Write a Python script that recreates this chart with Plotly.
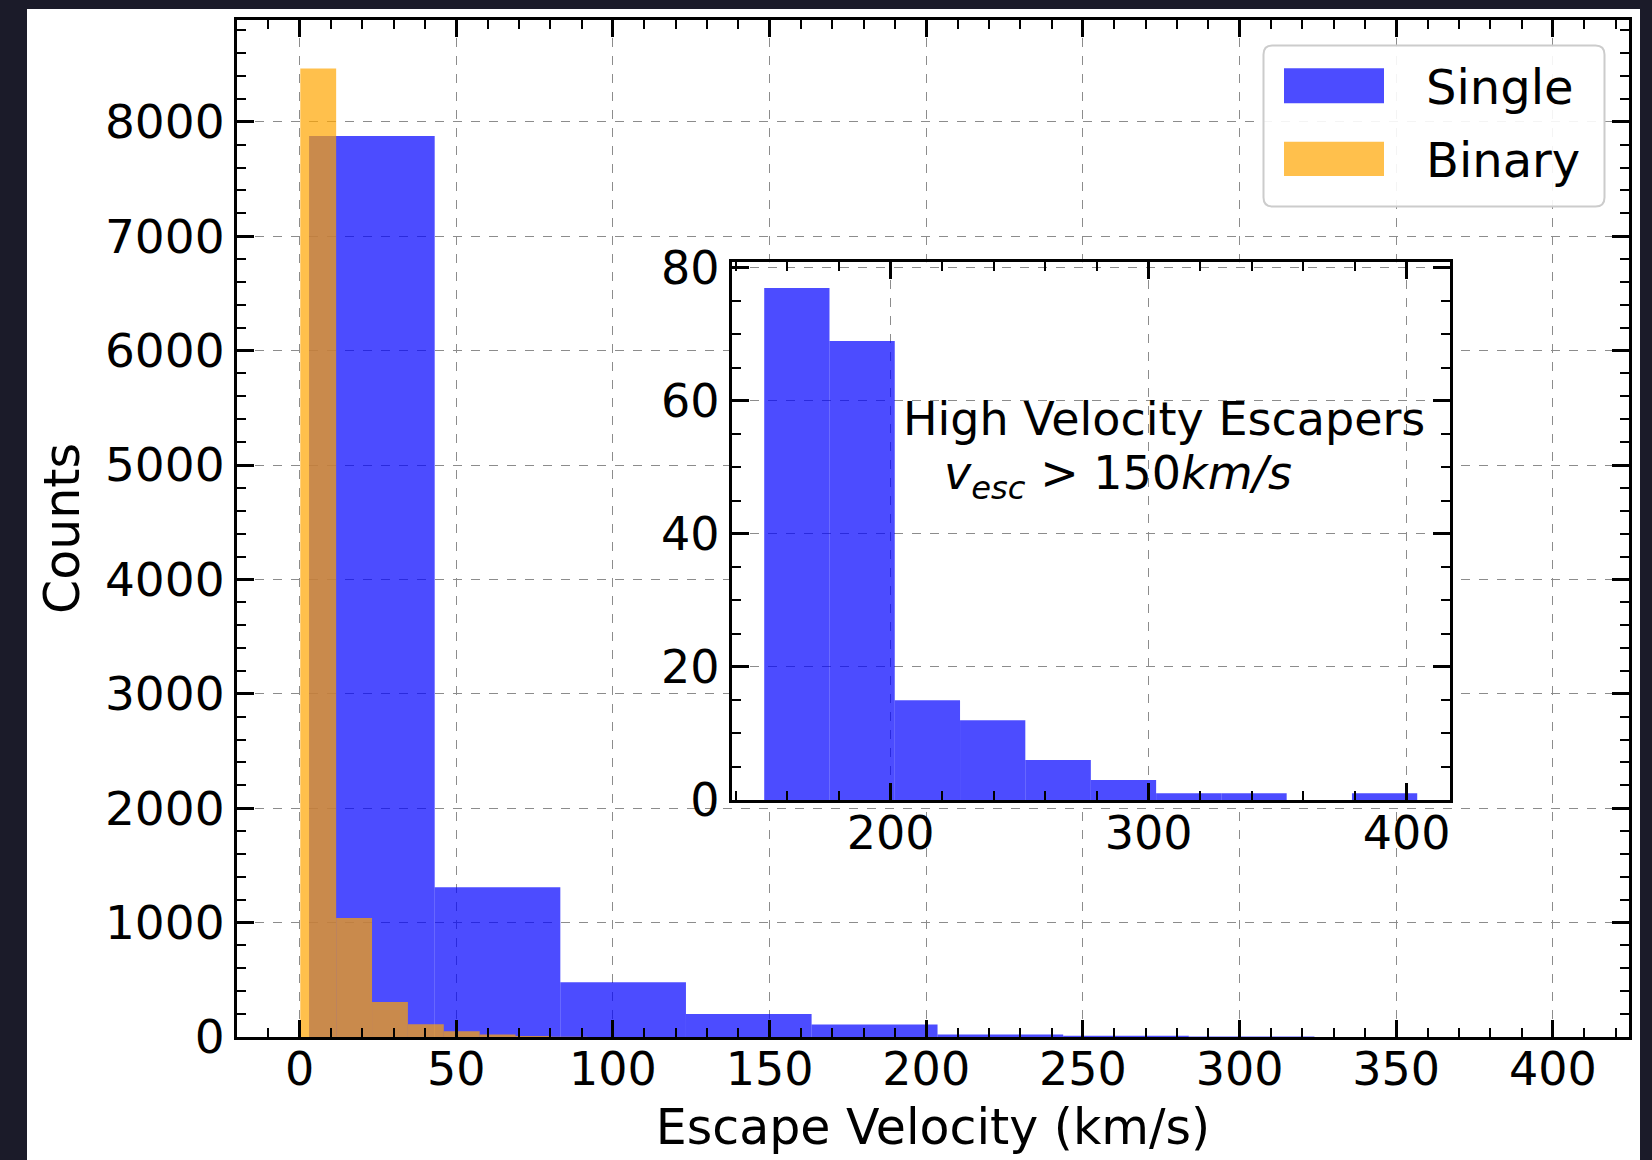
import numpy as np
import plotly.graph_objects as go

# ---------------- data ----------------
single_edges = [3.0, 43.1, 83.2, 123.3, 163.4, 203.6, 243.7, 283.8, 323.9, 364.0, 404.1]
single_counts = [7876, 1308, 478, 202, 110, 22, 11, 4, 1, 1]

binary_edges = [0.2, 11.65, 23.1, 34.55, 46.0, 57.45, 68.9, 80.35, 91.8, 103.25, 114.7]
binary_counts = [8467, 1040, 306, 111, 50, 21, 8, 3, 1, 1]

inset_edges = [151.0, 176.3, 201.6, 226.9, 252.2, 277.6, 302.9, 328.2, 353.5, 378.8, 404.1]
inset_counts = [77, 69, 15, 12, 6, 3, 1, 1, 0, 1]

series_names = ["Single", "Binary"]
x_title = "Escape Velocity (km/s)"
y_title = "Counts"
inset_line1 = "High Velocity Escapers"
inset_line2 = "<i>v</i><sub><i>esc</i></sub> &gt; 150<i>km/s</i>"

BLUE = "rgba(0,0,255,0.7)"
ORANGE = "rgba(255,165,0,0.7)"
FONT = "DejaVu Sans"

# ---------------- geometry (pixels) ----------------
W, H = 1652, 1160
L, R, T, B = 237, 23, 20, 123
PW, PH = W - L - R, H - T - B


def px(xp):
    return (xp - L) / PW


def py(yp):
    return (H - B - yp) / PH


def bars(edges, counts, color, name, xa, ya):
    e = np.asarray(edges, dtype=float)
    return go.Bar(x=e[:-1], y=counts, width=np.diff(e), offset=0,
                  marker=dict(color=color, line=dict(width=0)),
                  name=name, xaxis=xa, yaxis=ya, showlegend=False,
                  hoverinfo="x+y")


fig = go.Figure()
fig.add_trace(bars(single_edges, single_counts, BLUE, series_names[0], "x", "y"))
fig.add_trace(bars(binary_edges, binary_counts, ORANGE, series_names[1], "x", "y"))
fig.add_trace(bars(inset_edges, inset_counts, BLUE, series_names[0] + " (>150 km/s)", "x2", "y2"))


def axis_style(rng, dtick, minor_dtick, size, **kw):
    d = dict(range=rng, tickmode="linear", tick0=0, dtick=dtick,
             ticks="inside", ticklen=17, tickwidth=2.5, tickcolor="black",
             showline=True, linewidth=3, linecolor="black", mirror="ticks",
             showgrid=True, gridcolor="#8c8c8c", gridwidth=1.3, griddash="dash",
             zeroline=False, tickfont=dict(family=FONT, size=size, color="black"),
             minor=dict(dtick=minor_dtick, tick0=0, ticks="inside", ticklen=9,
                        tickwidth=2, tickcolor="black", showgrid=False),
             fixedrange=True)
    d.update(kw)
    return d


x_lo, x_hi = -20.0, 424.3
y_hi = 8890
ix_lo, ix_hi = 138.4, 416.8
iy_hi = 80.85

fig.update_layout(
    width=W, height=H,
    margin=dict(l=L, r=R, t=T, b=B, autoexpand=False),
    paper_bgcolor="#1b1b29",
    plot_bgcolor="white",
    barmode="overlay",
    font=dict(family=FONT, color="black"),
    showlegend=False,
    xaxis=axis_style([x_lo, x_hi], 50, 10, 46, ticklabelstandoff=-10,
                     title=dict(text=x_title, font=dict(family=FONT, size=49), standoff=15),
                     domain=[0, 1], anchor="y"),
    yaxis=axis_style([0, y_hi], 1000, 200, 47,
                     title=dict(text=y_title, font=dict(family=FONT, size=49), standoff=10),
                     domain=[0, 1], anchor="x"),
    xaxis2=axis_style([ix_lo, ix_hi], 100, 20, 46, ticklabelstandoff=-9,
                      domain=[px(731.7), px(1450)], anchor="y2"),
    yaxis2=axis_style([0, iy_hi], 20, 5, 46,
                      domain=[py(800), py(262.3)], anchor="x2"),
)

shapes = []
# white figure area (reference shows a white figure on a dark page)
shapes.append(dict(type="rect", xref="paper", yref="paper", layer="below",
                   x0=px(27), x1=px(1640), y0=py(1175), y1=py(9),
                   fillcolor="white", line=dict(width=0)))

# legend frame (rounded)
lx0, lx1, ly0, ly1, rr = 1263.5, 1604.5, 45.5, 206.5, 9


def rpath(x0, x1, y0, y1, r):
    pts = [
        f"M{px(x0 + r)},{py(y0)}",
        f"L{px(x1 - r)},{py(y0)}",
        f"Q{px(x1)},{py(y0)} {px(x1)},{py(y0 + r)}",
        f"L{px(x1)},{py(y1 - r)}",
        f"Q{px(x1)},{py(y1)} {px(x1 - r)},{py(y1)}",
        f"L{px(x0 + r)},{py(y1)}",
        f"Q{px(x0)},{py(y1)} {px(x0)},{py(y1 - r)}",
        f"L{px(x0)},{py(y0 + r)}",
        f"Q{px(x0)},{py(y0)} {px(x0 + r)},{py(y0)}",
        "Z",
    ]
    return " ".join(pts)


shapes.append(dict(type="path", xref="paper", yref="paper", layer="above",
                   path=rpath(lx0, lx1, ly0, ly1, rr),
                   fillcolor="rgba(255,255,255,0.9)", line=dict(color="#cccccc", width=2)))
shapes.append(dict(type="rect", xref="paper", yref="paper", layer="above",
                   x0=px(1284), x1=px(1384), y0=py(103.3), y1=py(68.3),
                   fillcolor=BLUE, line=dict(width=0)))
shapes.append(dict(type="rect", xref="paper", yref="paper", layer="above",
                   x0=px(1284), x1=px(1384), y0=py(176), y1=py(141.7),
                   fillcolor=ORANGE, line=dict(width=0)))

annotations = [
    dict(text=series_names[0], xref="paper", yref="paper", x=px(1424), y=py(86.5),
         xanchor="left", yanchor="middle", showarrow=False,
         font=dict(family=FONT, size=48, color="black")),
    dict(text=series_names[1], xref="paper", yref="paper", x=px(1424), y=py(159.5),
         xanchor="left", yanchor="middle", showarrow=False,
         font=dict(family=FONT, size=48, color="black")),
    dict(text=inset_line1, xref="paper", yref="paper", x=px(901), y=py(419.5),
         xanchor="left", yanchor="middle", showarrow=False,
         font=dict(family=FONT, size=46, color="black")),
    dict(text=inset_line2, xref="paper", yref="paper", x=px(942), y=py(476),
         xanchor="left", yanchor="middle", showarrow=False,
         font=dict(family=FONT, size=46, color="black")),
]

fig.update_layout(shapes=shapes, annotations=annotations)

fig.write_html(
    "out.html",
    config={"displayModeBar": False},
    post_script="document.body.style.margin='0';document.body.style.overflow='hidden';",
)
